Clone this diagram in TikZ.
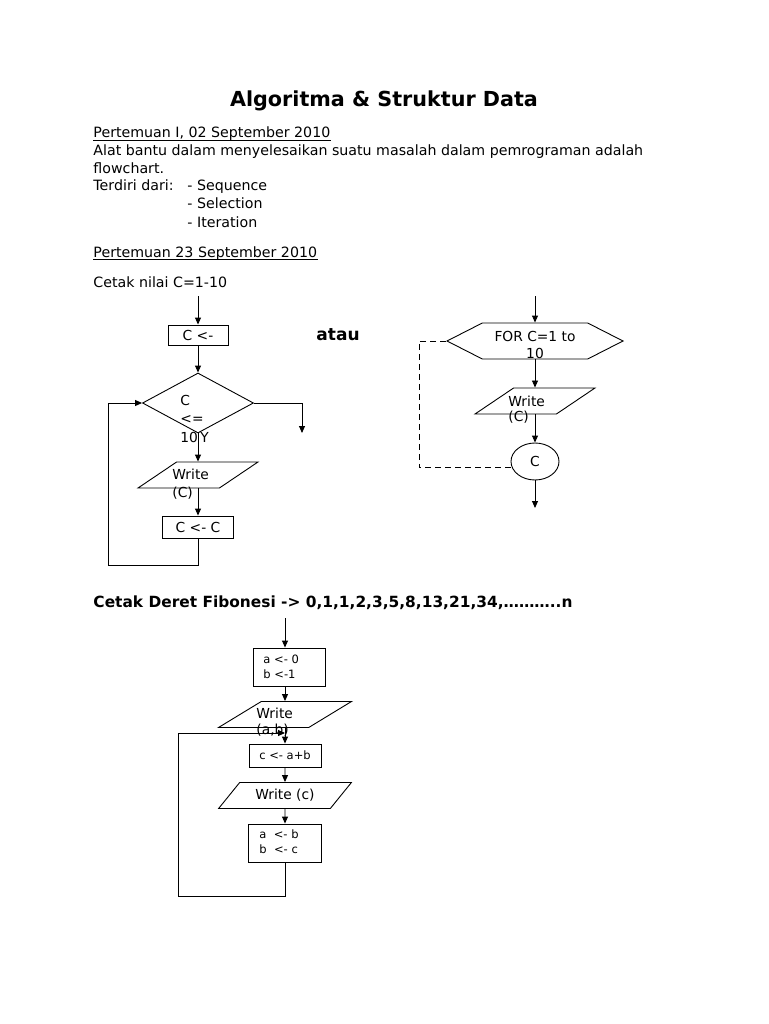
\documentclass[tikz,border=0pt]{standalone}
\usepackage{fontspec}
\setmainfont{DejaVu Sans}
\usetikzlibrary{arrows.meta,shapes.geometric,shapes.symbols}

\begin{document}
\begin{tikzpicture}[x=1pt, y=-1pt, line width=0.9pt,
    font=\fontsize{14.2}{18}\selectfont,
    arr/.style={-{Triangle[length=7pt,width=6pt]}},
    box/.style={draw, rectangle, inner sep=0pt},
    io/.style={draw, trapezium, trapezium left angle=48, trapezium right angle=132,
        trapezium stretches=true, inner sep=2pt, minimum height=26pt},
    txt/.style={anchor=base west, inner sep=0pt},
    uline/.style={line width=0.8pt},
    small/.style={font=\fontsize{13.8}{16}\selectfont},
    tiny/.style={font=\fontsize{11.5}{14}\selectfont}]
    \useasboundingbox (0,0) rectangle (768,1024);

    % Title and notes
    \node[font=\fontsize{20.7}{24}\selectfont\bfseries, inner sep=0pt, anchor=base] (title) at (384,107) {Algoritma \& Struktur Data};
    \node[txt] (meet1) at (93,138) {Pertemuan I, 02 September 2010};
    \draw[uline] ([yshift=-2pt]meet1.base west) -- ([yshift=-2pt]meet1.base east);
    \node[txt] (note1) at (93,156) {Alat bantu dalam menyelesaikan suatu masalah dalam pemrograman adalah};
    \node[txt] (note2) at (93,173.5) {flowchart.};
    \node[txt] (parts) at (93,191) {Terdiri dari:};
    \node[txt] (seq) at (187,191) {- Sequence};
    \node[txt] (sel) at (187,209) {- Selection};
    \node[txt] (iter) at (187,227) {- Iteration};
    \node[txt] (meet2) at (93,257) {Pertemuan 23 September 2010};
    \draw[uline] ([yshift=-2pt]meet2.base west) -- ([yshift=-2pt]meet2.base east);
    \node[txt] (task1) at (93,287) {Cetak nilai C=1-10};
    \node[txt, font=\fontsize{17}{20}\selectfont\bfseries] (atau) at (316,340) {atau};

    % Loop with a decision
    \coordinate (s1) at (198,296);
    \node[box, minimum width=60pt, minimum height=20pt, small] (init) at (198,335) {C <-};
    \node[draw, diamond, minimum width=111pt, minimum height=60pt, inner sep=1pt] (dec) at (198,403) {};
    \node[txt, small] (decC) at (180,405) {C};
    \node[txt, small] (decLe) at (180,423.5) {<=};
    \node[txt, small] (decTen) at (180,442) {10};
    \node[txt, small] (yes) at (200,442) {Y};
    \node[io, minimum width=120pt] (w1) at (198,475) {};
    \node[txt, small] (w1a) at (172,479.5) {Write};
    \node[txt, small] (w1b) at (172,497) {(C)};
    \node[box, minimum width=71pt, minimum height=22pt, small] (step1) at (198,527) {C <- C};
    \coordinate (out1) at (302,433);
    \coordinate (lp1) at (108,565);

    \draw[arr] (s1) -- (init.north);
    \draw[arr] (init.south) -- (dec.north);
    \draw[arr] (dec.south) -- (w1.north);
    \draw[arr] (w1.south) -- (step1.north);
    \draw[arr] (dec.east) -| (out1);
    \draw[arr] (step1.south) |- (lp1) |- (dec.west);

    % FOR loop
    \coordinate (s2) at (535,296);
    \node[draw, signal, signal to=east and west, signal pointer angle=54,
        minimum width=176pt, minimum height=36pt, inner sep=1pt] (for) at (535,341) {};
    \node[small, anchor=base, inner sep=0pt] (forA) at (535,341.5) {FOR C=1 to};
    \node[small, anchor=base, inner sep=0pt] (forB) at (535,358) {10};
    \node[io, minimum width=120pt] (w2) at (535,401) {};
    \node[txt, small] (w2a) at (508,406) {Write};
    \node[txt, small] (w2b) at (508,421.5) {(C)};
    \node[draw, ellipse, minimum width=48pt, minimum height=37pt, inner sep=0pt, small] (con) at (535,461.5) {C};
    \coordinate (e2) at (535,508);
    \coordinate (lp2) at (419,341);

    \draw[arr] (s2) -- (for.north);
    \draw[arr] (for.south) -- (w2.north);
    \draw[arr] (w2.south) -- (con.north);
    \draw[arr] (con.south) -- (e2);
    \draw[dash pattern=on 6pt off 4pt] (for.west) -- (lp2) |- (con.195);

    % Fibonacci
    \node[txt, font=\fontsize{15.4}{18}\selectfont\bfseries] (task2) at (93,607) {Cetak Deret Fibonesi -> 0,1,1,2,3,5,8,13,21,34,………..n};
    \coordinate (s3) at (285,618);
    \node[box, minimum width=72pt, minimum height=38pt] (f1) at (289,667) {};
    \node[txt, tiny] (f1a) at (263,663.5) {a <- 0};
    \node[txt, tiny] (f1b) at (263,678.5) {b <-1};
    \node[io, minimum width=133pt] (f2) at (285,714.5) {};
    \node[txt, small] (f2a) at (256,718) {Write};
    \node[txt, small] (f2b) at (256,734.5) {(a,b)};
    \node[box, minimum width=72pt, minimum height=23pt, tiny] (f3) at (285,755.5) {c <- a+b};
    \node[io, minimum width=133pt, small] (f4) at (285,795.5) {Write (c)};
    \node[box, minimum width=73pt, minimum height=38pt] (f5) at (285,843) {};
    \node[txt, tiny] (f5a) at (259,838.5) {a\ \ <- b};
    \node[txt, tiny] (f5b) at (259,853) {b\ \ <- c};
    \coordinate (j1) at (285,733);
    \coordinate (lp3) at (178,896);

    \draw[arr] (s3) -- (s3 |- f1.north);
    \draw[arr] (s3 |- f1.south) -- (f2.north);
    \draw[arr] (f2.south) -- (f3.north);
    \draw[arr] (f3.south) -- (f4.north);
    \draw[arr] (f4.south) -- (f5.north);
    \draw[arr] (f5.south) |- (lp3) |- (j1);
\end{tikzpicture}
\end{document}
